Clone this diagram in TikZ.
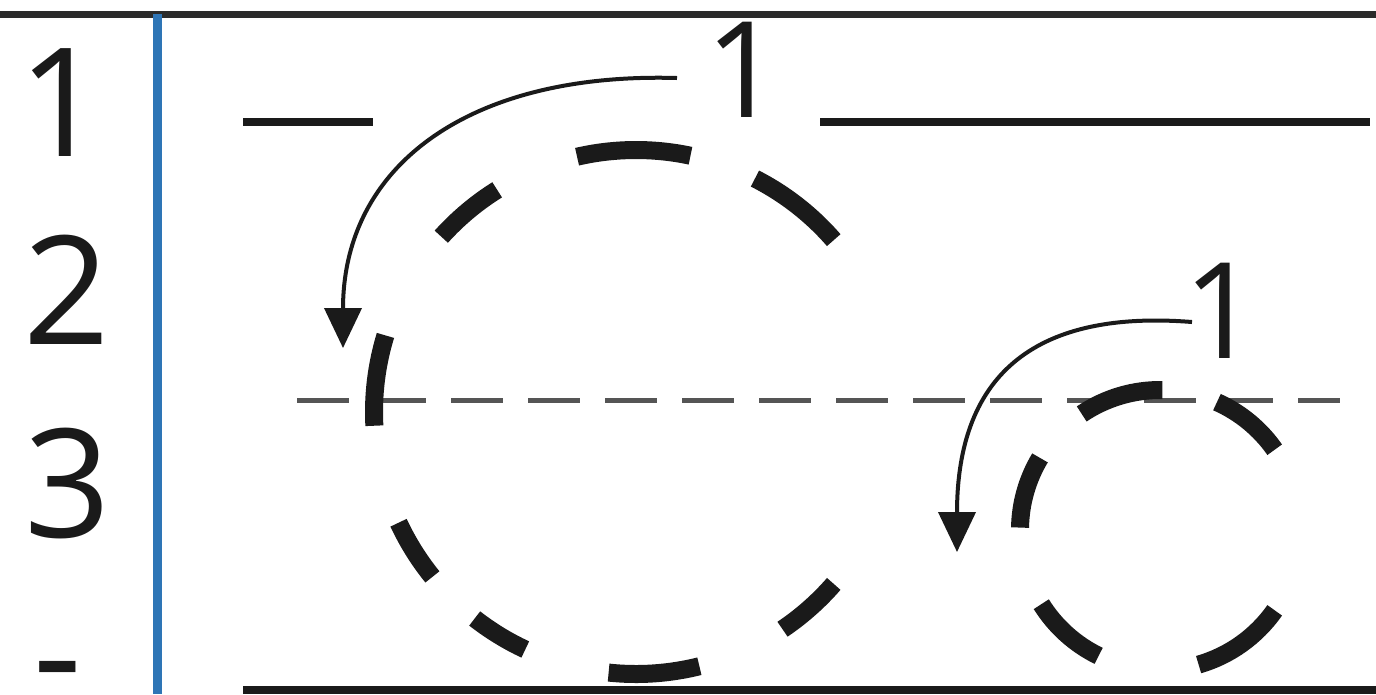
\documentclass[tikz,border=0pt]{standalone}
\usepackage{fontspec}
\setmainfont{Open Sans}
\usepackage{xcolor}
\usepackage{tikz}
\usetikzlibrary{arrows.meta}
\definecolor{ink}{HTML}{1A1A1A}
\definecolor{guide}{HTML}{555555}
\definecolor{frame}{HTML}{2B2B2B}
\definecolor{margin}{HTML}{2E75B6}
\tikzset{
  digit/.style={font=\fontsize{43}{43}\selectfont, inner sep=0pt, text=ink},
  count/.style={font=\fontsize{38}{38}\selectfont, inner sep=0pt, text=ink},
  staff/.style={draw=ink, line width=0.75mm},
  edge/.style={draw=frame, line width=0.7mm},
  marginline/.style={draw=margin, line width=0.9mm},
  guideline/.style={draw=guide, line width=0.5mm, dash pattern=on 5.2mm off 2.5mm},
  pen/.style={draw=ink, line width=1.8mm},
  curl/.style={draw=ink, line width=0.4mm, -{Triangle[length=4mm,width=3.7mm]}}
}

\begin{document}
\begin{tikzpicture}[x=0.1mm, y=-0.1mm]
  \useasboundingbox (0,0) rectangle (1376,694);

  \draw[edge] (0,14) -- (1376,14);
  \draw[marginline] (157,14) -- (157,694);

  \node[digit] (row1) at (62,103) {1};
  \node[digit] (row2) at (67,290) {2};
  \node[digit] (row3) at (68,484) {3};
  \node[digit, anchor=base, text height=4mm, text depth=0pt] (row4) at (58,694)
    {\raisebox{-1.3mm}{-}};

  \draw[staff] (243,122) -- (373,122);
  \draw[staff] (820,122) -- (1370,122);
  \draw[staff] (243,690) -- (1376,690);
  \draw[guideline] (297,400) -- (1340,400);

  \coordinate (big) at (636,412);
  \coordinate (small) at (1160,530);
  \foreach \a/\b in {-78/-103, -122/-138, -163/-183, -205/-219, -232/-245,
                     -264/-284, -304/-319, -41/-63}
    \draw[pen] (big) ++(\a:262) arc[start angle=\a, end angle=\b, radius=262];
  \foreach \a/\b in {-89/-124, -149/-179, -212/-244, -286/-325, -35/-66}
    \draw[pen] (small) ++(\a:140) arc[start angle=\a, end angle=\b, radius=140];

  \node[count] (turnA) at (744,70) {1};
  \node[count] (turnB) at (1222,311) {1};

  \coordinate (fromA) at (677,78);
  \coordinate (toA) at (343,348);
  \coordinate (fromB) at (1192,322);
  \coordinate (toB) at (957,552);
  \draw[curl] (fromA) .. controls +(-207,-6) and +(0,-183) .. (toA);
  \draw[curl] (fromB) .. controls +(-152,-12) and +(0,-182) .. (toB);
\end{tikzpicture}
\end{document}
